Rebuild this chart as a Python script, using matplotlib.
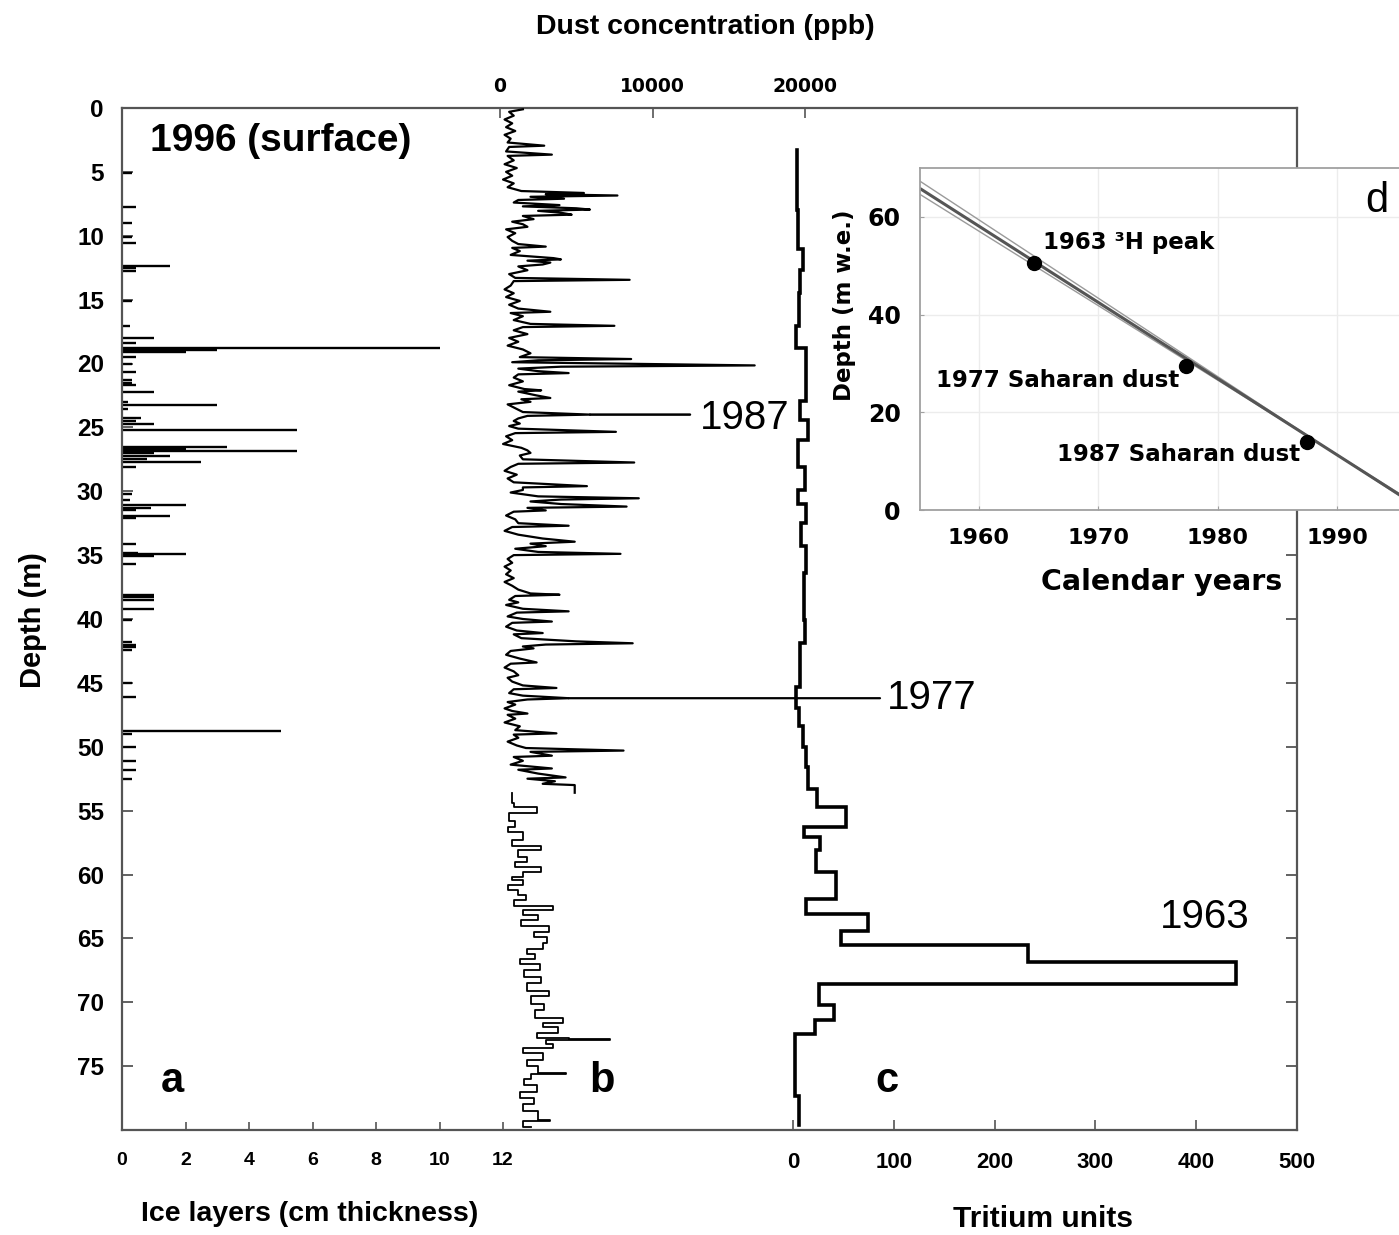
import numpy as np
import matplotlib
matplotlib.use("Agg")
import matplotlib.pyplot as plt

# ---------------- data ----------------
# (a) ice layers: depth (m) and thickness (cm)
ice_depth = [5.07, 7.78, 9.03, 10.08, 10.55, 12.35, 12.55, 12.75, 15.1, 17.1, 18.0, 18.4,
             18.8, 18.95, 19.1, 19.5, 20.0, 20.7, 21.3, 21.5, 21.7, 22.2, 23.0, 23.25, 23.6,
             24.3, 24.5, 24.7, 25.2, 26.55, 26.7, 26.85, 27.0, 27.25, 27.5, 27.7, 28.1, 30.2,
             30.65, 31.1, 31.3, 31.5, 31.9, 32.1, 34.1, 34.8, 34.9, 35.05, 35.7, 38.1, 38.3,
             38.5, 39.2, 40.1, 41.8, 42.0, 42.2, 42.4, 45.0, 46.1, 48.8, 49.0, 50.0, 51.1,
             51.8, 52.5]
ice_cm = [0.3, 0.45, 0.3, 0.3, 0.45, 1.5, 0.45, 0.45, 0.3, 0.25, 1.0, 0.45,
          10.0, 3.0, 2.0, 0.45, 0.3, 0.45, 0.3, 0.3, 0.45, 1.0, 0.2, 3.0, 0.2,
          0.6, 0.45, 1.0, 5.5, 3.3, 2.0, 5.5, 1.0, 1.5, 0.8, 2.5, 0.45, 0.3,
          0.25, 2.0, 0.9, 0.45, 1.5, 0.45, 0.45, 0.5, 2.0, 1.0, 0.45, 1.0, 1.0,
          1.0, 1.0, 0.3, 0.3, 0.45, 0.45, 0.3, 0.3, 0.45, 5.0, 0.3, 0.45, 0.45,
          0.45, 0.3]

# (b) dust, high-resolution section (0-53.6 m)
dust_depth_hr = [0.1, 0.3, 0.6, 0.9, 1.2, 1.5, 1.8, 2.1, 2.4, 2.7, 2.95, 3.05, 3.4, 3.65, 3.75,
                 4.1, 4.4, 4.7, 5.0, 5.3, 5.6, 5.9, 6.2, 6.5, 6.65, 6.75, 6.85, 6.95, 7.1, 7.2,
                 7.4, 7.6, 7.7, 7.85, 7.95, 8.05, 8.2, 8.35, 8.45, 8.7, 8.9, 9.1, 9.3, 9.5, 9.8,
                 10.1, 10.4, 10.65, 10.85, 10.95, 11.2, 11.5, 11.75, 11.85, 11.95, 12.1, 12.25,
                 12.4, 12.7, 13.0, 13.3, 13.45, 13.55, 13.9, 14.2, 14.5, 14.8, 15.1, 15.4, 15.7,
                 15.95, 16.05, 16.3, 16.6, 16.9, 17.05, 17.15, 17.4, 17.7, 18.0, 18.3, 18.6,
                 18.9, 19.2, 19.5, 19.65, 19.75, 19.9, 20.15, 20.25, 20.4, 20.6, 20.75, 20.85,
                 21.1, 21.4, 21.7, 22.0, 22.1, 22.2, 22.5, 22.7, 22.8, 23.0, 23.2, 23.5, 23.8,
                 24.0, 24.1, 24.3, 24.5, 24.7, 24.9, 25.1, 25.35, 25.45, 25.7, 26.0, 26.3, 26.6,
                 26.8, 27.0, 27.2, 27.5, 27.75, 27.85, 28.1, 28.4, 28.7, 29.0, 29.3, 29.6, 29.7,
                 29.9, 30.1, 30.4, 30.55, 30.65, 30.8, 31.0, 31.2, 31.3, 31.5, 31.6, 31.9, 32.2,
                 32.5, 32.7, 32.8, 33.1, 33.4, 33.7, 33.95, 34.1, 34.3, 34.5, 34.75, 34.9, 35.0,
                 35.3, 35.6, 35.9, 36.2, 36.5, 36.8, 37.1, 37.4, 37.7, 38.0, 38.1, 38.2, 38.5,
                 38.7, 38.9, 39.2, 39.4, 39.5, 39.8, 40.0, 40.2, 40.3, 40.6, 40.9, 41.1, 41.2,
                 41.5, 41.75, 41.9, 42.0, 42.15, 42.3, 42.5, 42.8, 43.1, 43.4, 43.5, 43.8, 44.1,
                 44.4, 44.6, 44.9, 45.2, 45.4, 45.5, 45.8, 46.0, 46.2, 46.3, 46.5, 46.7, 47.0,
                 47.2, 47.4, 47.5, 47.8, 48.1, 48.4, 48.7, 48.95, 49.05, 49.3, 49.6, 49.9, 50.1,
                 50.3, 50.4, 50.7, 50.8, 51.1, 51.4, 51.7, 51.8, 52.1, 52.4, 52.5, 52.7, 52.9,
                 53.0, 53.6]
dust_ppb_hr = [1500, 600, 900, 300, 800, 400, 1000, 300, 700, 500, 2900, 600, 400, 3400, 500,
               900, 300, 1100, 400, 800, 200, 900, 500, 1400, 5500, 3000, 7700, 2000, 4200, 1200,
               900, 3900, 1500, 5000, 5900, 2500, 4000, 4700, 1500, 2200, 800, 1500, 1800, 400, 1000,
               500, 800, 1200, 3000, 800, 1300, 700, 3500, 4000, 1800, 3300, 2800,
               1200, 1800, 600, 1000, 8500, 900, 700, 300, 900, 400, 1300, 600, 1200,
               3300, 700, 1500, 900, 2000, 7500, 1500, 900, 1800, 600, 1200, 500,
               1500, 2000, 1300, 8600, 2500, 800, 16700, 4000, 1200, 2500, 4500, 1200,
               900, 1500, 600, 1600, 2700, 1200, 2400, 3300, 1400, 2000, 500, 1000, 1500,
               5900, 1800, 1200, 900, 1300, 600, 1200, 7600, 1000, 400, 800, 200, 1400,
               1800, 2000, 1300, 1500, 8800, 1200, 700, 300, 1100, 500, 900, 5700, 1500,
               1500, 700, 2500, 9100, 4000, 2000, 4000, 8300, 1800, 3000, 900, 400, 1000,
               1200, 4500, 800, 300, 1200, 2800, 4900, 2000, 3000, 1000, 2500, 7900, 900,
               500, 800, 300, 700, 400, 900, 300, 800, 1200, 2000, 3900, 1000, 600,
               1200, 400, 1500, 4500, 1100, 500, 1500, 3400, 800, 400, 1100, 2800, 900,
               1400, 5000, 8700, 3000, 1500, 2200, 700, 400, 1300, 2400, 700, 300, 900,
               1200, 500, 800, 1500, 3700, 900, 600, 1500, 4500, 1800, 500, 1000, 300,
               800, 1800, 500, 1000, 300, 1300, 1000, 3700, 900, 1200, 500, 1100, 1700,
               8100, 2000, 3400, 900, 1500, 700, 3400, 1200, 2500, 4300, 1800, 3600, 2800,
               4900, 4900]

# (b) dust, coarse section (step values starting at each depth)
dust_depth_lr = [53.6, 54.4, 54.7, 55.2, 55.8, 56.3, 56.7, 57.3, 57.8, 58.1, 58.6, 59.0, 59.4,
                 59.8, 60.2, 60.45, 60.8, 61.2, 61.6, 62.0, 62.5, 62.8, 63.2, 63.6, 64.0, 64.5,
                 64.9, 65.4, 65.8, 66.2, 66.6, 67.0, 67.5, 68.0, 68.5, 69.1, 69.5, 70.1, 70.6,
                 71.2, 71.6, 71.9, 72.4, 72.8, 72.85, 72.95, 73.25, 73.6, 74.0, 74.5, 75.0,
                 75.5, 75.6, 76.0, 76.5, 77.0, 77.5, 78.0, 78.5, 79.2, 79.3, 79.8]
dust_ppb_lr = [800, 900, 2400, 600, 1000, 500, 1500, 800, 2700, 1200, 1800, 1000, 2700,
               1500, 800, 1500, 500, 1200, 1700, 900, 3500, 1500, 2500, 1400, 3200, 2200,
               3100, 2800, 1800, 2300, 1300, 2600, 1600, 2700, 1800, 3200, 2000, 2900, 2300,
               4100, 2800, 3800, 2400, 4500, 7200, 3000, 3500, 1500, 2800, 1800, 2500,
               4300, 2000, 1600, 2400, 1300, 2200, 1500, 2500, 3300, 1500, 2000]

# (c) tritium: interval edges (m) and values (TU)
trit_edges = [3.3, 8.0, 11.0, 12.7, 14.5, 17.1, 18.8, 22.9, 24.4, 26.0, 28.1, 29.9, 31.0, 32.5,
              34.3, 36.4, 40.1, 41.9, 45.3, 47.0, 48.4, 50.0, 51.6, 53.3, 54.7, 56.3, 57.1,
              58.1, 59.8, 61.9, 63.1, 64.4, 65.5, 66.85, 68.6, 70.2, 71.4, 72.5, 77.3, 79.6]
trit_tu = [4, 5, 10, 7, 6, 3, 13, 7, 15, 5, 12, 5, 13, 8, 13, 11, 12, 7, 3, 6, 10, 13, 15,
           24, 53, 11, 27, 23, 43, 13, 74, 48, 233, 439, 26, 41, 22, 2, 6]

# (d) inset: age-depth points and fits
tie_year = [1964.6, 1977.4, 1987.5]
tie_depth = [50.6, 29.5, 13.9]
fit_year = [1955.1, 1996.9]
fit_depth = [65.8, 0.5]
fit_hi_depth = [67.3, 0.2]
fit_lo_depth = [64.6, 0.8]

ice_ticks = [0, 2, 4, 6, 8, 10, 12]
dust_ticks = [0, 10000, 20000]
trit_ticks = [0, 100, 200, 300, 400, 500]
depth_ticks = list(range(0, 80, 5))
year_ticks = [1960, 1970, 1980, 1990]
inset_depth_ticks = [0, 20, 40, 60]

# ---------------- figure ----------------
AR = "Liberation Sans"
VD = "DejaVu Sans"
W_PX, H_PX = 1399, 1235
fig = plt.figure(figsize=(W_PX / 100, H_PX / 100), dpi=100)

def fx(px):
    return px / W_PX

def fy(py):
    return 1 - py / H_PX

L, R, T, B = 122, 1297, 108, 1130
rect = [fx(L), fy(B), fx(R) - fx(L), fy(T) - fy(B)]
spine_c = "#555555"

ax_ice = fig.add_axes(rect)
ax_dust = fig.add_axes(rect, sharey=ax_ice)
ax_trit = fig.add_axes(rect, sharey=ax_ice)
for a in (ax_dust, ax_trit):
    a.patch.set_visible(False)
    for s in a.spines.values():
        s.set_visible(False)

ax_ice.set_ylim(80, 0)
# x scales so that each profile sits where it does in the reference
ax_ice.set_xlim(0, (R - L) / 31.75)
ax_dust.set_xlim(-(500 - L) / 0.01525, (R - 500) / 0.01525)
ax_trit.set_xlim(-(793 - L) / 1.008, 500)

for s in ax_ice.spines.values():
    s.set_color(spine_c)
    s.set_linewidth(1.6)

# ice layers
ax_ice.hlines(ice_depth, 0, ice_cm, color="black", lw=1.7)

# dust
ax_dust.plot(dust_ppb_hr, dust_depth_hr, color="black", lw=1.6)
ax_dust.plot(dust_ppb_lr, dust_depth_lr, color="black", lw=1.3, drawstyle="steps-pre")

# tritium step profile
te = np.asarray(trit_edges)
ty = np.column_stack([te[:-1], te[1:]]).ravel()
tx = np.repeat(np.asarray(trit_tu), 2)
ax_trit.plot(tx, ty, color="black", lw=2.6, solid_joinstyle="miter")

# ticks
ax_ice.set_yticks(depth_ticks)
ax_ice.set_yticklabels([str(d) for d in depth_ticks], fontfamily=AR, fontweight="bold", fontsize=17.5)
ax_ice.tick_params(axis="y", which="both", direction="in", length=8, width=1.3, color=spine_c,
                   left=True, right=True, pad=13)
ax_ice.set_xticks(ice_ticks)
ax_ice.set_xticklabels([str(v) for v in ice_ticks], fontfamily=AR, fontweight="bold", fontsize=14)
ax_ice.tick_params(axis="x", direction="in", length=6, width=1.2, color=spine_c, pad=16)

ax_dust.xaxis.tick_top()
ax_dust.set_xticks(dust_ticks)
ax_dust.set_xticklabels([str(v) for v in dust_ticks], fontfamily=VD, fontweight="bold", fontsize=13.5)
ax_dust.tick_params(axis="x", direction="in", length=7, width=1.2, color=spine_c, pad=9)
ax_dust.tick_params(axis="y", left=False, right=False, labelleft=False)

ax_trit.set_xticks(trit_ticks)
ax_trit.set_xticklabels([str(v) for v in trit_ticks], fontfamily=AR, fontweight="bold", fontsize=16)
ax_trit.tick_params(axis="x", direction="in", length=7, width=1.2, color=spine_c, pad=16)
ax_trit.tick_params(axis="y", left=False, right=False, labelleft=False)

# axis titles
fig.text(fx(705), fy(27), "Dust concentration (ppb)", ha="center", va="center",
         fontfamily=AR, fontweight="bold", fontsize=20.5)
fig.text(fx(33), fy(620), "Depth (m)", ha="center", va="center", rotation=90,
         fontfamily=AR, fontweight="bold", fontsize=21)
fig.text(fx(310), fy(1214), "Ice layers (cm thickness)", ha="center", va="center",
         fontfamily=AR, fontweight="bold", fontsize=20.5)
fig.text(fx(1043), fy(1219), "Tritium units", ha="center", va="center",
         fontfamily=AR, fontweight="bold", fontsize=21.5)

# panel annotations
ax_ice.text(0.88, 2.6, "1996 (surface)", ha="left", va="center",
            fontfamily=AR, fontweight="bold", fontsize=28)
for lab, xpx in (("a", 172), ("b", 602), ("c", 887)):
    ax_ice.text((xpx - L) / 31.75, 76.2, lab, ha="center", va="center",
                fontfamily=AR, fontweight="bold", fontsize=30)

# event markers
ax_dust.annotate("", xy=(5900, 24.0), xytext=((690 - 500) / 0.01525, 24.0),
                 arrowprops=dict(arrowstyle="-", color="black", lw=1.8, shrinkA=0, shrinkB=0))
ax_dust.text((700 - 500) / 0.01525, 24.3, "1987", ha="left", va="center",
             fontfamily=AR, fontsize=29)
ax_dust.annotate("", xy=(4500, 46.2), xytext=((880 - 500) / 0.01525, 46.2),
                 arrowprops=dict(arrowstyle="-", color="black", lw=1.6, shrinkA=0, shrinkB=0))
ax_dust.text((887 - 500) / 0.01525, 46.2, "1977", ha="left", va="center",
             fontfamily=AR, fontsize=29)
ax_trit.text((1160 - 793) / 1.008, 63.3, "1963", ha="left", va="center",
             fontfamily=AR, fontsize=29)

# ---------------- inset (d) ----------------
IL, IT, IB = 920, 168, 510
IR = 1420
ax_in = fig.add_axes([fx(IL), fy(IB), fx(IR) - fx(IL), fy(IT) - fy(IB)])
ax_in.set_facecolor("white")
ax_in.set_xlim(1955.1, 1955.1 + (IR - IL) / 11.95)
ax_in.set_ylim(0, 70)
for s in ax_in.spines.values():
    s.set_color("#a0a0a0")
    s.set_linewidth(1.3)
ax_in.set_xticks(year_ticks)
ax_in.set_yticks(inset_depth_ticks)
ax_in.grid(True, color="#ececec", lw=1.0)
ax_in.set_axisbelow(True)
ax_in.set_xticklabels([str(y) for y in year_ticks], fontfamily=VD, fontweight="bold", fontsize=16)
ax_in.set_yticklabels([str(d) for d in inset_depth_ticks], fontfamily=VD, fontweight="bold", fontsize=17)
ax_in.tick_params(axis="both", direction="in", length=3, color="#a0a0a0")
ax_in.tick_params(axis="x", pad=13)
ax_in.tick_params(axis="y", pad=14)

ax_in.plot(fit_year, fit_hi_depth, color="#9a9a9a", lw=1.0)
ax_in.plot(fit_year, fit_lo_depth, color="#9a9a9a", lw=1.0)
ax_in.plot(fit_year, fit_depth, color="#555555", lw=2.2)
ax_in.plot(tie_year, tie_depth, "o", color="black", ms=10)

ax_in.text(1965.4, 54.7, "1963 \u00b3H peak", ha="left", va="center",
           fontfamily=VD, fontweight="bold", fontsize=16.5)
ax_in.text(1956.4, 26.6, "1977 Saharan dust", ha="left", va="center",
           fontfamily=VD, fontweight="bold", fontsize=16.5)
ax_in.text(1966.6, 11.3, "1987 Saharan dust", ha="left", va="center",
           fontfamily=VD, fontweight="bold", fontsize=16.5)
ax_in.text(1993.3, 63.3, "d", ha="center", va="center", fontfamily=AR, fontsize=30)

ax_in.set_xlabel("Calendar years", fontfamily=VD, fontweight="bold", fontsize=20.5)
ax_in.xaxis.set_label_coords((1162 - IL) / (IR - IL), (IB - 582) / (IB - IT))
ax_in.set_ylabel("Depth (m w.e.)", fontfamily=VD, fontweight="bold", fontsize=16.5)
ax_in.yaxis.set_label_coords((845 - IL) / (IR - IL), (IB - 305) / (IB - IT))
ax_in.xaxis.label.set_va("center")
ax_in.yaxis.label.set_va("center")

fig.savefig("out.png", dpi=100)
